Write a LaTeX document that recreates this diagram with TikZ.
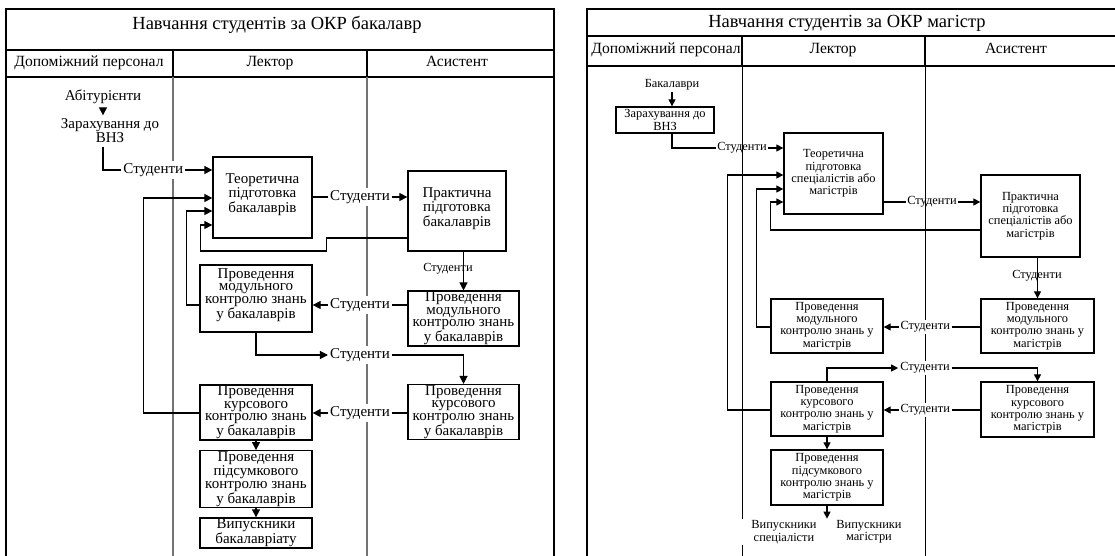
\documentclass[tikz,border=0pt]{standalone}
\usepackage{fontspec}
\setmainfont{Liberation Serif}
\usetikzlibrary{arrows.meta}
\tikzset{box/.style={draw, line width=1.3pt, align=center, inner sep=1pt},
  bigtxt/.style={font=\fontsize{15}{12.4}\selectfont},
  smalltxt/.style={font=\fontsize{12.4}{12.4}\selectfont},
  titl/.style={font=\fontsize{18.5}{20}\selectfont, text height=13pt, text depth=4pt},
  head/.style={font=\fontsize{15.6}{16}\selectfont, text height=11pt, text depth=3.5pt},
  lbl/.style={fill=white, inner sep=2pt, align=center},
  slbl/.style={inner sep=1pt, smalltxt},
  ln/.style={line width=1.2pt},
  arr/.style={line width=1.2pt, -{Triangle[length=8pt,width=8pt]}},
  arrR/.style={line width=1.1pt, -{Triangle[length=7pt,width=7pt]}},
  frame/.style={line width=1.6pt},
  laneL/.style={line width=1.8pt, black!55},
  laneR/.style={line width=0.9pt}}

\begin{document}
\begin{tikzpicture}[x=1pt,y=-1pt]
\useasboundingbox (0,0) rectangle (1115,556);
\draw[frame] (6,556) -- (6,9) -- (554,9) -- (554,556);
\draw[frame] (6,50) -- (554,50) (6,77) -- (554,77) (173,50) -- (173,77) (367,50) -- (367,77);
\draw[laneL] (173,77) -- (173,556) (367,77) -- (367,556);
\node[titl] (titleL) at (277,25) {Навчання студентів за ОКР бакалавр};
\node[head] (dopL) at (89,63) {Допоміжний персонал};
\node[head] (lekL) at (270,63) {Лектор};
\node[head] (asL) at (457,63) {Асистент};

\node[bigtxt] (abit) at (103,97) {Абітурієнти};
\node[font=\fontsize{15}{10.5}\selectfont, align=center] (zarah) at (110,131) {Зарахування до\\ВНЗ};
\node[box,bigtxt,minimum width=99pt,minimum height=81pt] (teorL) at (262.5,197.5) {Теоретична\\підготовка\\бакалаврів\\[-4pt]~};
\node[box,bigtxt,minimum width=98pt,minimum height=80pt] (praktL) at (457,211) {Практична\\підготовка\\бакалаврів\\[-4pt]~};
\node[box,bigtxt,minimum width=112pt,minimum height=67pt] (modL) at (256,298.5) {Проведення\\модульного\\контролю знань\\у бакалаврів\\[-2pt]~};
\node[box,bigtxt,minimum width=111pt,minimum height=53pt] (modA) at (463.5,318.5) {Проведення\\модульного\\контролю знань\\у бакалаврів};
\node[box,bigtxt,minimum width=112pt,minimum height=53pt] (kursL) at (256,412.5) {Проведення\\курсового\\контролю знань\\у бакалаврів};
\node[box,bigtxt,minimum width=111pt,minimum height=54pt] (kursA) at (463.5,412) {Проведення\\курсового\\контролю знань\\у бакалаврів};
\node[box,bigtxt,minimum width=112pt,minimum height=54pt] (pidsL) at (256,479) {Проведення\\підсумкового\\контролю знань\\у бакалаврів};
\node[box,bigtxt,minimum width=112pt,minimum height=28pt] (vypL) at (256,533) {Випускники\\бакалавріату};

\draw[arr] (abit.south) -- (abit.south |- zarah.north);
\draw[arr] (zarah.south -| abit.south) |- node[lbl,bigtxt,pos=0.73] (s1) {Студенти} (teorL.west |- 0,170);
\draw[arr] (teorL.east |- 0,197) -- node[lbl,bigtxt] (s2) {Студенти} (praktL.west |- 0,197);
\draw[arr] (praktL.west |- 0,238) -- ++(-81,0) -- ++(0,13) -- ++(-126,0) -- ++(0,-26) -- (teorL.west |- 0,225);
\draw[arr] (modA.north |- praktL.south) -- (modA.north);
\node[slbl] (s3) at (448,269) {Студенти};
\draw[arr] (modA.west |- 0,305) -- node[lbl,bigtxt] (s4) {Студенти} (modL.east |- 0,305);
\draw[arr] (modL.west |- 0,305) -- ++(-13,0) |- (teorL.west |- 0,211);
\node[lbl,bigtxt] (s5) at (360,355) {Студенти};
\draw[arr] (modL.south) |- (s5.west);
\draw[arr] (s5.east) -| (kursA.north);
\draw[arr] (kursA.west |- 0,413) -- node[lbl,bigtxt] (s6) {Студенти} (kursL.east |- 0,413);
\draw[arr] (kursL.west |- 0,413) -- ++(-56,0) |- (teorL.west |- 0,198);
\draw[arr] (kursL.south) -- (pidsL.north);
\draw[arr] (pidsL.south) -- (vypL.north);

\draw[frame] (587,556) -- (587,9) -- (1115,9);
\draw[frame] (587,36) -- (1115,36) (587,66) -- (1115,66) (742,36) -- (742,66) (925,36) -- (925,66);
\draw[laneR] (742,66) -- (742,556) (925,66) -- (925,556);
\node[titl] (titleR) at (847,23) {Навчання студентів за ОКР магістр};
\node[head] (dopR) at (666,50) {Допоміжний персонал};
\node[head] (lekR) at (833,50) {Лектор};
\node[head] (asR) at (1016,50) {Асистент};

\node[slbl] (bakR) at (672,85) {Бакалаври};
\node[box,smalltxt,minimum width=98pt,minimum height=26pt] (zarR) at (665,120) {Зарахування до\\ВНЗ};
\node[box,smalltxt,minimum width=99pt,minimum height=81pt] (teorR) at (833.5,173.5) {Теоретична\\підготовка\\спеціалістів або\\магістрів};
\node[box,smalltxt,minimum width=99pt,minimum height=82pt] (praktR) at (1030.5,216) {Практична\\підготовка\\спеціалістів або\\магістрів};
\node[box,smalltxt,minimum width=112pt,minimum height=54pt] (modLR) at (827,326) {Проведення\\модульного\\контролю знань у\\магістрів};
\node[box,smalltxt,minimum width=113pt,minimum height=54pt] (modAR) at (1037.5,326) {Проведення\\модульного\\контролю знань у\\магістрів};
\node[box,smalltxt,minimum width=112pt,minimum height=54pt] (kursLR) at (827,409) {Проведення\\курсового\\контролю знань у\\магістрів};
\node[box,smalltxt,minimum width=113pt,minimum height=55pt] (kursAR) at (1037.5,409.5) {Проведення\\курсового\\контролю знань у\\магістрів};
\node[box,smalltxt,minimum width=112pt,minimum height=55pt] (pidsR) at (827,477.5) {Проведення\\підсумкового\\контролю знань у\\магістрів};

\draw[arrR] (bakR.south) -- (bakR.south |- zarR.north);
\node[slbl] (s1R) at (742,148) {Студенти};
\draw[ln] (zarR.south -| bakR.south) |- (s1R.west);
\draw[arrR] (s1R.east) -- (teorR.west |- s1R.east);
\node[slbl] (s2R) at (932,202) {Студенти};
\draw[ln] (teorR.east |- s2R.west) -- (s2R.west);
\draw[arrR] (s2R.east) -- (praktR.west |- s2R.east);
\draw[arrR] (praktR.west |- 0,230) -- ++(-210,0) |- (teorR.west |- 0,202);
\draw[arrR] (modAR.north |- praktR.south) -- (modAR.north);
\node[slbl] (s3R) at (1037,276) {Студенти};
\draw[arrR] (modAR.west |- 0,327) -- node[lbl,smalltxt,pos=0.57] (s4R) {Студенти} (modLR.east |- 0,327);
\draw[arrR] (modLR.west |- 0,327) -- ++(-14,0) |- (teorR.west |- 0,189);
\node[lbl,smalltxt] (s5R) at (925,368) {Студенти};
\draw[arrR] (kursLR.north) |- (s5R.west);
\draw[arrR] (s5R.east) -| (kursAR.north);
\draw[arrR] (kursAR.west |- 0,410) -- node[lbl,smalltxt,pos=0.57] (s6R) {Студенти} (kursLR.east |- 0,410);
\draw[arrR] (kursLR.west |- 0,410) -- ++(-43,0) |- (teorR.west |- 0,175);
\draw[arrR] (kursLR.south) -- (pidsR.north);
\draw[arrR] (pidsR.south) -- ++(0,13);
\node[lbl,smalltxt,inner xsep=10pt] (vypS) at (784,532) {Випускники\\спеціалісти};
\node[lbl,smalltxt] (vypM) at (869,532) {Випускники\\магістри};
\end{tikzpicture}
\end{document}
